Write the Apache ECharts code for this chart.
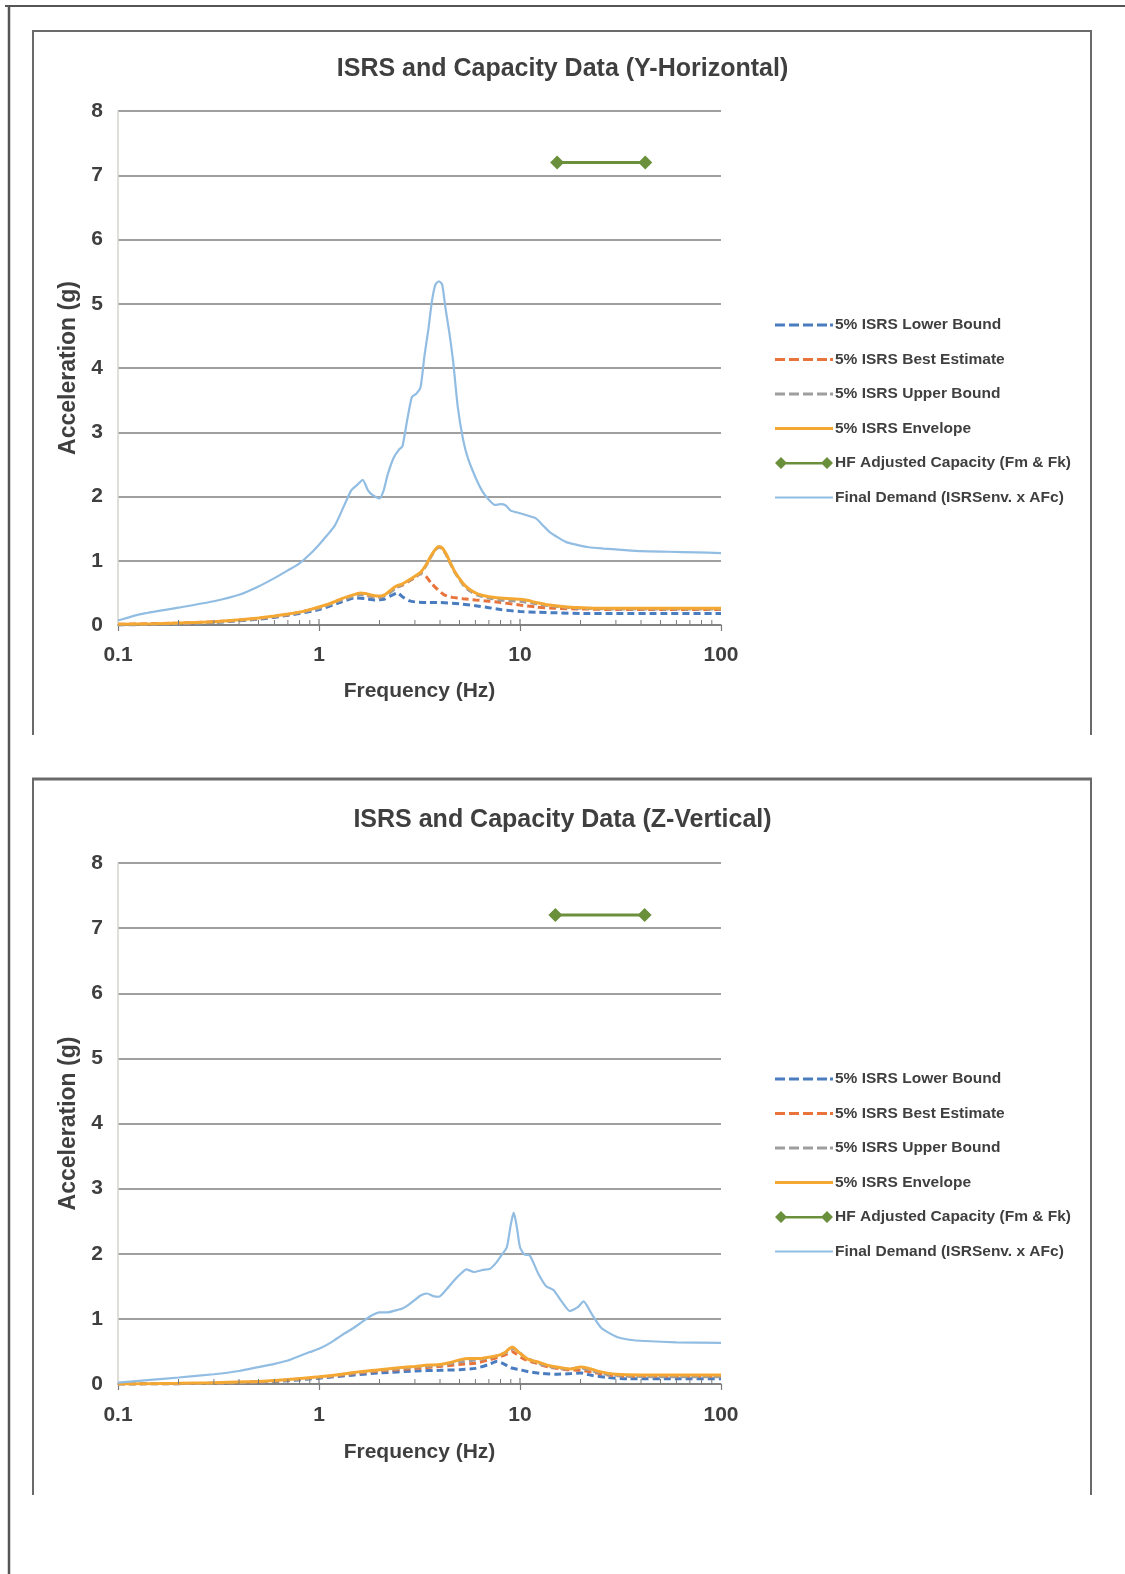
<!DOCTYPE html>
<html>
<head>
<meta charset="utf-8">
<script src="https://cdn.jsdelivr.net/npm/echarts@6/dist/echarts.min.js"></script>
<style>
html,body{margin:0;padding:0;background:#fff;}
#c{width:1125px;height:1574px;}
</style>
</head>
<body>
<div id="c"></div>
<script>
// ---------- DATA ----------
const titles = ['ISRS and Capacity Data (Y-Horizontal)', 'ISRS and Capacity Data (Z-Vertical)'];
const seriesNames = ['5% ISRS Lower Bound', '5% ISRS Best Estimate', '5% ISRS Upper Bound', '5% ISRS Envelope', 'HF Adjusted Capacity (Fm & Fk)', 'Final Demand (ISRSenv. x AFc)'];
const xTickLabels = ['0.1', '1', '10', '100'];
const minorTicks = [0.2,0.3,0.4,0.5,0.6,0.7,0.8,0.9,2,3,4,5,6,7,8,9,20,30,40,50,60,70,80,90];
const majorTicks = [1, 10];

// Chart 1: Y-Horizontal
const yLowF = [0.1,0.2,0.3,0.5,0.7,1.0,1.3,1.5,1.7,1.9,2.1,2.3,2.45,2.6,2.8,3.0,3.5,4,5,6,7,8,10,12,15,20,30,50,100];
const yLowV = [0.0,0.02,0.04,0.09,0.15,0.24,0.36,0.42,0.41,0.39,0.4,0.46,0.5,0.44,0.38,0.36,0.35,0.35,0.33,0.3,0.27,0.24,0.21,0.2,0.19,0.18,0.18,0.18,0.18];
const yBestF = [0.1,0.2,0.3,0.5,0.7,1.0,1.3,1.6,1.8,2.0,2.2,2.4,2.6,2.8,3.0,3.2,3.4,3.6,3.9,4.2,4.6,5.2,6,7,8,10,12,15,20,30,50,100];
const yBestV = [0.01,0.03,0.05,0.1,0.16,0.27,0.4,0.48,0.45,0.43,0.5,0.58,0.62,0.68,0.74,0.8,0.76,0.66,0.55,0.47,0.43,0.41,0.39,0.37,0.35,0.31,0.28,0.26,0.25,0.24,0.24,0.24];
const yUpF = [0.1,0.2,0.3,0.5,0.7,1.0,1.3,1.6,1.8,2.0,2.2,2.4,2.6,2.8,3.0,3.2,3.4,3.6,3.8,3.95,4.1,4.3,4.5,4.7,5.0,5.3,5.7,6.2,7,8,10,12,15,20,30,50,100];
const yUpV = [0.0,0.02,0.04,0.1,0.16,0.26,0.39,0.47,0.45,0.43,0.48,0.57,0.63,0.69,0.75,0.8,0.92,1.06,1.17,1.21,1.19,1.09,0.96,0.84,0.71,0.6,0.52,0.46,0.42,0.39,0.37,0.33,0.29,0.26,0.25,0.25,0.25];
const yEnvF = [0.1,0.15,0.2,0.3,0.4,0.5,0.6,0.7,0.8,0.9,1.0,1.15,1.3,1.45,1.6,1.7,1.8,1.95,2.1,2.25,2.4,2.6,2.8,3.0,3.2,3.4,3.6,3.8,3.95,4.1,4.3,4.5,4.7,5.0,5.3,5.7,6.2,7.0,8,9,10,11,12,14,17,20,25,30,40,50,70,100];
const yEnvV = [0.01,0.02,0.03,0.05,0.08,0.11,0.14,0.17,0.2,0.24,0.28,0.34,0.41,0.46,0.5,0.49,0.47,0.45,0.46,0.53,0.6,0.64,0.7,0.76,0.82,0.93,1.07,1.18,1.22,1.2,1.1,0.97,0.85,0.72,0.62,0.54,0.48,0.44,0.42,0.41,0.4,0.38,0.35,0.31,0.28,0.27,0.26,0.26,0.26,0.26,0.26,0.26];
const yCapF = [15.3, 42];
const yCapV = [7.2, 7.2];
const yDemF = [0.1,0.13,0.2,0.3,0.4,0.5,0.6,0.7,0.8,0.9,1.0,1.1,1.2,1.33,1.45,1.55,1.65,1.75,1.85,2.0,2.1,2.2,2.35,2.5,2.6,2.75,2.9,3.05,3.2,3.35,3.5,3.65,3.8,3.95,4.1,4.25,4.45,4.65,4.9,5.2,5.5,6.0,6.5,7.0,7.5,8.0,8.5,9.0,10,11,12,13,14,15.5,17,19,22,26,32,40,55,75,100];
const yDemV = [0.07,0.17,0.27,0.37,0.47,0.6,0.73,0.85,0.96,1.1,1.25,1.4,1.55,1.85,2.1,2.18,2.26,2.1,2.02,1.97,2.1,2.35,2.6,2.73,2.78,3.2,3.55,3.6,3.7,4.2,4.6,5.05,5.3,5.35,5.3,4.95,4.55,4.1,3.4,2.9,2.6,2.3,2.08,1.95,1.87,1.88,1.86,1.78,1.74,1.7,1.66,1.55,1.45,1.36,1.29,1.25,1.21,1.19,1.17,1.15,1.14,1.13,1.12];

// Chart 2: Z-Vertical
const zLowF = [0.1,0.3,0.5,0.7,1.0,1.5,2,3,4,5,6,7,7.7,8.3,9,10,11,13,15,18,20,23,27,35,60,100];
const zLowV = [0.0,0.01,0.03,0.05,0.09,0.14,0.17,0.2,0.21,0.22,0.24,0.3,0.35,0.31,0.25,0.22,0.19,0.16,0.15,0.16,0.17,0.13,0.1,0.08,0.08,0.08];
const zBestF = [0.1,0.3,0.5,0.7,1.0,1.5,2,3,4,5,6,7,8,8.6,9.1,9.6,10.5,12,14,17,20,23,27,35,60,100];
const zBestV = [0.0,0.01,0.03,0.06,0.1,0.16,0.2,0.24,0.27,0.3,0.32,0.37,0.42,0.46,0.5,0.46,0.38,0.32,0.26,0.22,0.21,0.18,0.14,0.12,0.12,0.12];
const zUpF = [0.1,0.3,0.5,0.7,1.0,1.5,2,3,4,5,6,7,8,8.7,9.2,9.8,10.5,12,14,17,20,23,27,35,60,100];
const zUpV = [0.0,0.01,0.03,0.06,0.1,0.17,0.21,0.26,0.29,0.34,0.37,0.4,0.45,0.5,0.55,0.5,0.42,0.33,0.27,0.23,0.25,0.2,0.15,0.12,0.11,0.11];
const zEnvF = [0.1,0.2,0.3,0.5,0.7,1.0,1.3,1.6,2.0,2.5,3.0,3.5,4.0,4.5,5.0,5.6,6.3,7.0,7.8,8.4,8.9,9.2,9.6,10.2,11,12.5,14,16,18,20,22,25,30,40,60,100];
const zEnvV = [0.0,0.01,0.02,0.04,0.07,0.11,0.15,0.19,0.22,0.25,0.27,0.29,0.3,0.33,0.37,0.39,0.39,0.41,0.44,0.48,0.55,0.57,0.52,0.45,0.38,0.33,0.28,0.25,0.23,0.26,0.24,0.19,0.15,0.14,0.14,0.14];
const zCapF = [15.0, 41.7];
const zCapV = [7.2, 7.2];
const zDemF = [0.1,0.14,0.2,0.3,0.4,0.5,0.6,0.7,0.8,0.9,1.0,1.15,1.3,1.45,1.6,1.8,2.0,2.2,2.4,2.6,2.8,3.0,3.2,3.45,3.7,3.95,4.3,4.7,5.1,5.4,5.9,6.5,7.1,7.6,8.1,8.6,9.0,9.3,9.6,10.0,10.5,11.2,12.3,13.5,14.7,16,17.7,19.4,20.7,22.7,25.4,30,35,42,60,100];
const zDemV = [0.02,0.06,0.1,0.15,0.2,0.26,0.31,0.36,0.43,0.49,0.54,0.64,0.75,0.84,0.93,1.04,1.1,1.1,1.13,1.16,1.22,1.29,1.36,1.39,1.35,1.34,1.45,1.59,1.7,1.76,1.72,1.75,1.77,1.86,1.98,2.1,2.45,2.63,2.45,2.1,1.99,1.97,1.7,1.5,1.44,1.28,1.12,1.18,1.27,1.08,0.86,0.73,0.68,0.66,0.64,0.63];

// ---------- STYLE ----------
const FONT = '"Liberation Sans Narrow", "Arial Narrow", "Liberation Sans", sans-serif';
const TXT = '#3f3f3f';
const colors = ['#4a7cc0', '#e8743b', '#9e9e9e', '#f4a833', '#6a903c', '#92bde3'];
const zip = (f, v) => f.map((x, i) => [x, v[i]]);

const icons = [
  'path://M0,0h10v3h-10z M14,0h10v3h-10z M28,0h10v3h-10z M42,0h10v3h-10z M55,0h3v3h-3z',
  'path://M0,0h10v3h-10z M14,0h10v3h-10z M28,0h10v3h-10z M42,0h10v3h-10z M55,0h3v3h-3z',
  'path://M0,0h10v3h-10z M14,0h10v3h-10z M28,0h10v3h-10z M42,0h10v3h-10z M55,0h3v3h-3z',
  'path://M0,0h58v3h-58z',
  'path://M0,6L6,0L12,6L6,12Z M9,5h40v2.5h-40z M46,6L52,0L58,6L52,12Z',
  'path://M0,0h58v2h-58z'
];

const grids = [
  {left: 118, width: 603, top: 111, height: 514},
  {left: 118, width: 603, top: 863, height: 521}
];

function xAxis(i, nameGap, margin) {
  return {
    type: 'log', logBase: 10, min: 0.1, max: 100, gridIndex: i,
    name: 'Frequency (Hz)', nameLocation: 'middle', nameGap: nameGap,
    nameTextStyle: {fontFamily: FONT, fontWeight: 'bold', fontSize: 21, color: TXT},
    axisLine: {lineStyle: {color: '#7a7a7a', width: 1.5}},
    axisTick: {show: true, length: 6, lineStyle: {color: '#7a7a7a', width: 1.2}},
    minorTick: {show: false},
    splitLine: {show: false},
    axisLabel: {fontFamily: FONT, fontWeight: 'bold', fontSize: 21, color: TXT, margin: margin,
      formatter: v => { const s = xTickLabels.find(t => Math.abs(parseFloat(t) - v) < 1e-6 * Math.max(1, v)); return s || ''; }}
  };
}
function yAxis(i) {
  return {
    type: 'value', min: 0, max: 8, interval: 1, gridIndex: i,
    name: 'Acceleration (g)', nameLocation: 'middle', nameGap: 35, nameRotate: 90,
    nameTextStyle: {fontFamily: FONT, fontWeight: 'bold', fontSize: 23, color: TXT},
    axisLine: {show: true, lineStyle: {color: '#d6d3cc', width: 1.5}},
    axisTick: {show: false},
    splitLine: {lineStyle: {color: '#7f7f7f', width: 1.5}},
    axisLabel: {fontFamily: FONT, fontWeight: 'bold', fontSize: 21, color: TXT, margin: 15}
  };
}

function lineSeries(name, idx, data, gi) {
  const dashed = idx < 3;
  return {
    name: name, type: 'line', xAxisIndex: gi, yAxisIndex: gi, data: data,
    showSymbol: false, symbol: 'none', smooth: 0.2, animation: false,
    lineStyle: {color: colors[idx], width: dashed ? 3 : (idx === 5 ? 2.2 : 3), type: dashed ? [7, 4] : 'solid'},
    itemStyle: {color: colors[idx]},
    z: 2 + idx
  };
}

function tickSeries(gi) {
  return {
    type: 'custom', xAxisIndex: gi, yAxisIndex: gi, silent: true, animation: false, z: 10,
    data: minorTicks.map(f => [f, 0]).concat(majorTicks.map(f => [f, 1])),
    renderItem: (params, api) => {
      const p = api.coord([api.value(0), 0]);
      const major = api.value(1) === 1;
      return {type: 'line', shape: {x1: p[0], y1: p[1], x2: p[0], y2: p[1] - (major ? 6 : 5)},
        style: {stroke: '#7a7a7a', lineWidth: major ? 1.2 : 1}};
    }
  };
}

function chartSeries(gi, sets) {
  const out = [];
  sets.forEach((d, idx) => {
    if (idx === 4) {
      out.push({name: seriesNames[idx], type: 'line', xAxisIndex: gi, yAxisIndex: gi, data: d,
        symbol: 'diamond', symbolSize: 14, showSymbol: true, animation: false,
        lineStyle: {color: colors[4], width: 3}, itemStyle: {color: colors[4]}, z: 8});
    } else {
      out.push(lineSeries(seriesNames[idx], idx, d, gi));
    }
  });
  out.push(tickSeries(gi));
  return out;
}

const series = [].concat(
  chartSeries(0, [zip(yLowF, yLowV), zip(yBestF, yBestV), zip(yUpF, yUpV), zip(yEnvF, yEnvV), zip(yCapF, yCapV), zip(yDemF, yDemV)]),
  chartSeries(1, [zip(zLowF, zLowV), zip(zBestF, zBestV), zip(zUpF, zUpV), zip(zEnvF, zEnvV), zip(zCapF, zCapV), zip(zDemF, zDemV)])
);

function legend(top) {
  return {
    orient: 'vertical', left: 770, top: top, itemWidth: 58, itemHeight: 12, itemGap: 16.5,
    selectedMode: false, symbolKeepAspect: true,
    itemStyle: {borderWidth: 0},
    textStyle: {fontFamily: FONT, fontWeight: 'bold', fontSize: 15.5, color: TXT, lineHeight: 18, padding: [0, 0, 0, -3]},
    data: seriesNames.map((n, i) => ({name: n, icon: icons[i]}))
  };
}

const frame = {stroke: '#6a6a6a', lineWidth: 2};
const graphic = [
  {type: 'line', shape: {x1: 5, y1: 6, x2: 1125, y2: 6}, style: {stroke: '#555', lineWidth: 2}},
  {type: 'line', shape: {x1: 9, y1: 5, x2: 9, y2: 1574}, style: {stroke: '#555', lineWidth: 2.5}},
  {type: 'line', shape: {x1: 32, y1: 31, x2: 1092, y2: 31}, style: frame},
  {type: 'line', shape: {x1: 33, y1: 31, x2: 33, y2: 735}, style: frame},
  {type: 'line', shape: {x1: 1091, y1: 31, x2: 1091, y2: 735}, style: frame},
  {type: 'line', shape: {x1: 32, y1: 779, x2: 1092, y2: 779}, style: {stroke: '#6a6a6a', lineWidth: 3}},
  {type: 'line', shape: {x1: 33, y1: 779, x2: 33, y2: 1495}, style: frame},
  {type: 'line', shape: {x1: 1091, y1: 779, x2: 1091, y2: 1495}, style: frame}
];

const chart = echarts.init(document.getElementById('c'), null, {renderer: 'canvas'});
chart.setOption({
  backgroundColor: '#ffffff',
  animation: false,
  title: [
    {text: titles[0], left: 'center', top: 52, textStyle: {fontFamily: FONT, fontWeight: 'bold', fontSize: 25, color: TXT}},
    {text: titles[1], left: 'center', top: 803, textStyle: {fontFamily: FONT, fontWeight: 'bold', fontSize: 25, color: TXT}}
  ],
  legend: [legend(311), legend(1065)],
  grid: grids,
  xAxis: [xAxis(0, 56, 20), xAxis(1, 58, 21)],
  yAxis: [yAxis(0), yAxis(1)],
  series: series,
  graphic: graphic
});
</script>
</body>
</html>
